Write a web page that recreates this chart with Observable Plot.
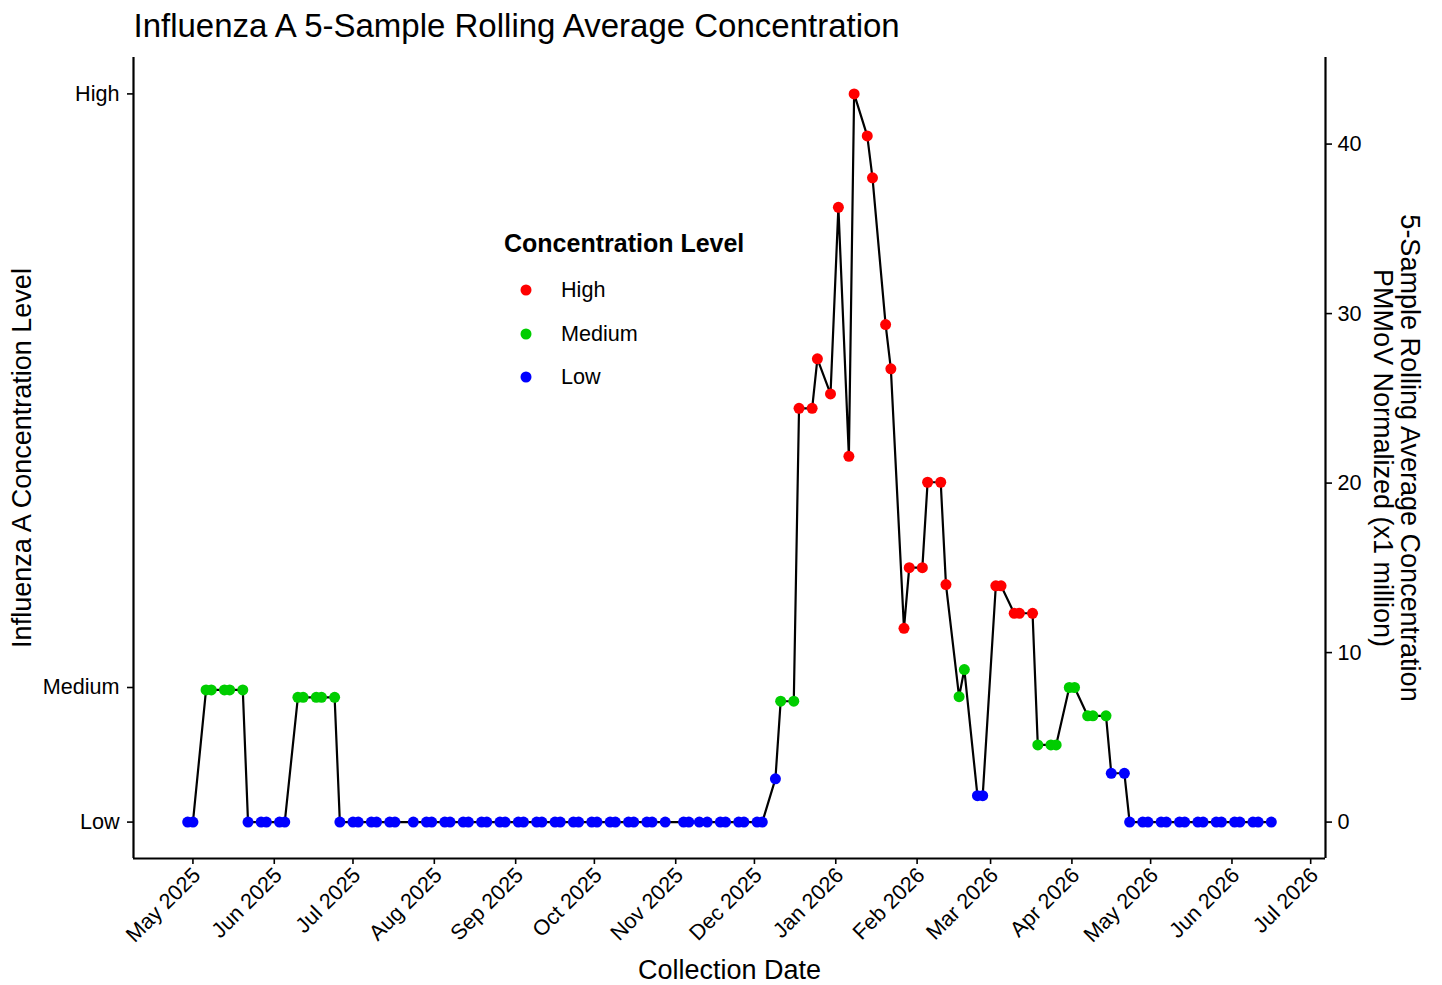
<!DOCTYPE html>
<html><head><meta charset="utf-8">
<script src="https://cdn.jsdelivr.net/npm/d3@7"></script>
<script src="https://cdn.jsdelivr.net/npm/@observablehq/plot@0.6"></script>
<style>
body{margin:0;background:#fff;font-family:"Liberation Sans",Arial,sans-serif;}
#wrap{position:relative;width:1442px;height:985px;overflow:hidden;}
#legend{position:absolute;left:504px;top:228px;color:#000;}
#legend .t{font-weight:bold;font-size:25px;line-height:30px;}
#legend .it{position:relative;height:43.5px;font-size:21.6px;}
#legend svg{position:absolute;left:14px;top:0;}
</style></head><body><div id="wrap"><div id="legend"></div></div>
<script>
// Collection dates (Tue/Thu sampling)
const dates = [
  "2025-04-29","2025-05-01","2025-05-06","2025-05-08","2025-05-13","2025-05-15","2025-05-20","2025-05-22","2025-05-27","2025-05-29",
  "2025-06-03","2025-06-05","2025-06-10","2025-06-12","2025-06-17","2025-06-19","2025-06-24","2025-06-26",
  "2025-07-01","2025-07-03","2025-07-08","2025-07-10","2025-07-15","2025-07-17","2025-07-24","2025-07-29","2025-07-31",
  "2025-08-05","2025-08-07","2025-08-12","2025-08-14","2025-08-19","2025-08-21","2025-08-26","2025-08-28",
  "2025-09-02","2025-09-04","2025-09-09","2025-09-11","2025-09-16","2025-09-18","2025-09-23","2025-09-25","2025-09-30",
  "2025-10-02","2025-10-07","2025-10-09","2025-10-14","2025-10-16","2025-10-21","2025-10-23","2025-10-28",
  "2025-11-04","2025-11-06","2025-11-10","2025-11-13","2025-11-18","2025-11-20","2025-11-25","2025-11-27",
  "2025-12-02","2025-12-04","2025-12-09","2025-12-11","2025-12-16","2025-12-18","2025-12-23","2025-12-25","2025-12-30",
  "2026-01-02","2026-01-06","2026-01-08","2026-01-13","2026-01-15","2026-01-20","2026-01-22","2026-01-27","2026-01-29",
  "2026-02-03","2026-02-05","2026-02-10","2026-02-12","2026-02-17","2026-02-19","2026-02-24","2026-02-26",
  "2026-03-03","2026-03-05","2026-03-10","2026-03-12","2026-03-17","2026-03-19","2026-03-24","2026-03-26","2026-03-31",
  "2026-04-02","2026-04-07","2026-04-09","2026-04-14","2026-04-16","2026-04-21","2026-04-23","2026-04-28","2026-04-30",
  "2026-05-05","2026-05-07","2026-05-12","2026-05-14","2026-05-19","2026-05-21","2026-05-26","2026-05-28",
  "2026-06-02","2026-06-04","2026-06-09","2026-06-11","2026-06-16"
];
// 5-sample rolling average, PMMoV normalized (x1 million)
const values = [
  0,0,7.80,7.80,7.80,7.80,7.80,0,0,0,
  0,0,7.36,7.36,7.36,7.36,7.36,0,
  0,0,0,0,0,0,0,0,0,
  0,0,0,0,0,0,0,0,
  0,0,0,0,0,0,0,0,0,
  0,0,0,0,0,0,0,0,
  0,0,0,0,0,0,0,0,
  0,0,2.55,7.13,7.13,24.41,24.41,27.33,25.26,
  36.27,21.58,42.96,40.48,38.01,29.35,26.74,11.43,15.01,
  15.01,20.05,20.05,14.01,7.40,9.00,1.56,1.56,
  13.94,13.94,12.32,12.32,12.32,4.55,4.55,4.55,7.94,
  7.94,6.27,6.27,6.27,2.88,2.88,0,0,0,
  0,0,0,0,0,0,0,0,
  0,0,0,0,0
];
// Concentration level per sample (L = Low, M = Medium, H = High)
const levels = [
  "L","L","M","M","M","M","M","L","L","L",
  "L","L","M","M","M","M","M","L",
  "L","L","L","L","L","L","L","L","L",
  "L","L","L","L","L","L","L","L",
  "L","L","L","L","L","L","L","L","L",
  "L","L","L","L","L","L","L","L",
  "L","L","L","L","L","L","L","L",
  "L","L","L","M","M","H","H","H","H",
  "H","H","H","H","H","H","H","H","H",
  "H","H","H","H","M","M","L","L",
  "H","H","H","H","H","M","M","M","M",
  "M","M","M","M","L","L","L","L","L",
  "L","L","L","L","L","L","L","L",
  "L","L","L","L","L"
];
const levelNames = {L:"Low", M:"Medium", H:"High"};
const levelOrder = ["High","Medium","Low"];
const levelColors = ["#FF0000","#00CD00","#0000FF"];
// Left axis labels (level positions) and right axis ticks
const levelTickValues = [0, 7.94, 42.96];
const levelTickLabels = ["Low","Medium","High"];
const rightTicks = [0,10,20,30,40];
const titleText = "Influenza A 5-Sample Rolling Average Concentration";
const xTitle = "Collection Date";
const yLeftTitle = "Influenza A Concentration Level";
const yRightTitle = "5-Sample Rolling Average Concentration\nPMMoV Normalized (x1 million)";
const legendTitle = "Concentration Level";

const parse = d3.utcParse("%Y-%m-%d");
const data = dates.map((d,i)=>({date:parse(d), value:values[i], level:levelNames[levels[i]]}));
const xe = d3.extent(data, d=>d.date);
const span = xe[1]-xe[0];
const xDomain = [new Date(+xe[0]-0.05*span), new Date(+xe[1]+0.05*span)];
const ye = [0, d3.max(values)];
const yDomain = [ye[0]-0.05*(ye[1]-ye[0]), ye[1]+0.05*(ye[1]-ye[0])];
const monthTicks = d3.utcMonth.range(d3.utcMonth.ceil(xDomain[0]), xDomain[1]);
const FONT = "Liberation Sans, Arial, sans-serif";

const plot = Plot.plot({
  width:1442, height:985,
  marginLeft:133, marginRight:117, marginTop:57, marginBottom:127,
  style:{fontFamily:FONT, fontSize:"21.6px", color:"#000", background:"#fff", overflow:"visible"},
  x:{type:"utc", domain:xDomain},
  y:{domain:yDomain},
  color:{domain:levelOrder, range:levelColors},
  marks:[
    // x tick marks
    Plot.axisX({ticks:monthTicks, tickFormat:()=>"", tickSize:6, strokeWidth:1.6, label:null}),
    // x tick labels (rotated)
    Plot.axisX({ticks:monthTicks, tickFormat:d3.utcFormat("%b %Y"), tickRotate:-45, tickSize:0, tickPadding:13, dx:4, label:null, fontSize:21.6, fill:"#000"}),
    Plot.axisY({anchor:"left", ticks:levelTickValues, tickFormat:(d)=>levelTickLabels[levelTickValues.indexOf(d)], tickSize:6, tickPadding:8, strokeWidth:1.6, label:null, fontSize:21.6, fill:"#000"}),
    Plot.axisY({anchor:"right", ticks:rightTicks, tickSize:6, tickPadding:6, strokeWidth:1.6, label:null, fontSize:21.6, fill:"#000"}),
    Plot.ruleX(xDomain, {stroke:"#000", strokeWidth:2.2}),
    Plot.ruleY([yDomain[0]], {stroke:"#000", strokeWidth:2.2}),
    Plot.line(data, {x:"date", y:"value", stroke:"#000", strokeWidth:2.2}),
    Plot.dot(data, {x:"date", y:"value", fill:"level", r:5.5}),
    Plot.text([titleText], {text:d=>d, frameAnchor:"top-left", textAnchor:"start", lineAnchor:"middle", dy:-31, fontSize:33, fill:"#000"}),
    Plot.text([xTitle], {text:d=>d, frameAnchor:"bottom", textAnchor:"middle", lineAnchor:"middle", dy:112, fontSize:27, fill:"#000"}),
    Plot.text([yLeftTitle], {text:d=>d, frameAnchor:"left", textAnchor:"middle", lineAnchor:"middle", dx:-111, rotate:-90, fontSize:27, fill:"#000"}),
    Plot.text([yRightTitle], {text:d=>d, frameAnchor:"right", textAnchor:"middle", lineAnchor:"middle", dx:71, rotate:90, fontSize:27, lineHeight:1.0, fill:"#000"})
  ]
});
document.getElementById("wrap").prepend(plot);

// Legend
const lg = d3.select("#legend");
lg.append("div").attr("class","t").text(legendTitle);
lg.append("div").style("height","20px");
levelOrder.forEach((name,i)=>{
  const it = lg.append("div").attr("class","it");
  const s = it.append("svg").attr("width",16).attr("height",16).style("top","4px");
  s.append("circle").attr("cx",8).attr("cy",8).attr("r",5.5).attr("fill",levelColors[i]);
  it.append("span").style("position","absolute").style("left","57px").style("top","0px").style("line-height","24px").style("white-space","nowrap").text(name);
});
</script>
</body></html>
